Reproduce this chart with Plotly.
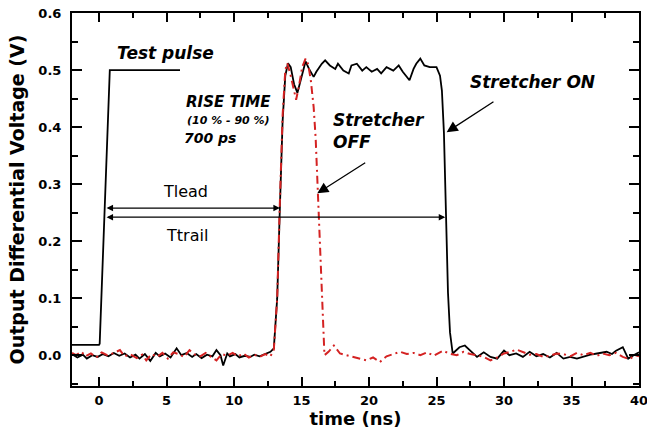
import plotly.graph_objects as go

# ---------------- data ----------------
# Test pulse (black)
pulse_t = [-2.0, 0.0, 0.05, 0.8, 6.0]
pulse_v = [0.018, 0.018, 0.02, 0.5, 0.5]

# Stretcher ON (black solid)
on_t = [-2.0, -1.6, -1.2, -0.9, -0.5, -0.1, 0.3, 0.7, 1.1, 1.5, 1.9, 2.3, 2.7, 3.0, 3.4, 3.8,
        4.2, 4.5, 4.9, 5.3, 5.75, 6.1, 6.5, 6.9, 7.2, 7.6, 8.0, 8.4, 8.7, 9.0, 9.2, 9.5, 9.7,
        10.1, 10.4, 10.8, 11.2, 11.5, 11.9, 12.3, 12.7, 12.95, 13.2, 13.4, 13.6, 13.8, 14.0,
        14.2, 14.45, 14.7, 15.0, 15.3, 15.6, 15.9, 16.1, 16.5, 16.75, 17.1, 17.5, 17.7, 18.1,
        18.5, 18.7, 19.1, 19.5, 19.8, 20.2, 20.6, 20.9, 21.3, 21.8, 22.2, 22.5, 23.0, 23.3,
        23.5, 23.8, 24.1, 24.5, 25.0, 25.26, 25.4, 25.55, 25.7, 25.85, 26.0, 26.2, 26.7, 27.1,
        27.5, 28.0, 28.5, 29.0, 29.5, 30.0, 30.4, 30.9, 31.4, 31.9, 32.4, 32.9, 33.4, 33.9,
        34.4, 34.9, 35.4, 35.9, 36.4, 36.9, 37.6, 38.0, 38.3, 38.8, 39.2, 39.6, 40.0]
on_v = [0.002, -0.004, 0.001, -0.006, 0.000, -0.003, 0.002, -0.002, 0.004, -0.001, 0.003,
        -0.004, 0.001, -0.006, 0.002, -0.010, 0.004, -0.002, 0.003, -0.004, 0.012, 0.000,
        0.004, -0.003, 0.002, -0.005, 0.001, -0.002, 0.009, 0.000, -0.018, 0.003, -0.002,
        0.002, -0.004, -0.001, -0.003, 0.001, -0.002, 0.002, 0.006, 0.012, 0.10, 0.26, 0.41,
        0.49, 0.512, 0.505, 0.475, 0.46, 0.49, 0.515, 0.50, 0.488, 0.497, 0.511, 0.517, 0.508,
        0.502, 0.511, 0.499, 0.494, 0.508, 0.511, 0.499, 0.505, 0.497, 0.502, 0.494, 0.505,
        0.499, 0.508, 0.497, 0.482, 0.502, 0.511, 0.520, 0.508, 0.505, 0.505, 0.49, 0.464,
        0.39, 0.25, 0.11, 0.04, 0.003, 0.014, 0.017, 0.008, -0.003, 0.005, -0.003, -0.006,
        0.008, 0.000, 0.003, -0.003, 0.006, -0.002, 0.002, -0.004, 0.004, -0.006, -0.003,
        -0.006, -0.002, 0.001, 0.003, 0.006, 0.002, 0.008, 0.014, -0.006, 0.000, 0.005]

# Stretcher OFF (red dash-dot)
off_t = [-2.0, -1.7, -1.3, -1.0, -0.6, -0.2, 0.2, 0.6, 1.0, 1.55, 1.9, 2.3, 2.8, 3.2, 3.5, 3.9,
         4.3, 4.7, 5.1, 5.5, 5.9, 6.3, 6.7, 7.1, 7.5, 7.9, 8.3, 8.7, 9.1, 9.5, 9.9, 10.3, 10.7,
         11.1, 11.5, 11.9, 12.3, 12.7, 12.95, 13.2, 13.4, 13.6, 13.8, 13.95, 14.2, 14.45, 14.6,
         14.8, 15.05, 15.3, 15.5, 15.7, 15.9, 16.05, 16.2, 16.35, 16.5, 16.6, 16.7, 17.0, 17.4,
         17.85, 18.3, 18.8, 19.3, 19.8, 20.3, 20.8, 21.3, 21.8, 22.3, 22.8, 23.3, 23.8, 24.3,
         24.8, 25.2, 25.5, 25.9, 26.5, 27.0, 27.5, 28.0, 28.5, 29.0, 29.5, 30.0, 30.5, 30.9,
         31.4, 31.9, 32.4, 32.9, 33.4, 33.9, 34.4, 34.9, 35.4, 35.9, 36.4, 36.9, 37.3, 37.8,
         38.3, 38.8, 39.3, 39.7, 40.0]
off_v = [0.004, 0.000, 0.006, -0.002, 0.003, -0.004, 0.005, 0.000, 0.003, 0.009, -0.002, 0.002,
         -0.005, 0.001, -0.009, 0.002, -0.003, 0.004, -0.006, 0.005, 0.002, -0.003, 0.009, 0.001,
         -0.002, 0.004, -0.003, -0.009, 0.002, -0.001, 0.004, -0.002, 0.003, -0.004, 0.001,
         -0.003, 0.002, -0.002, 0.010, 0.10, 0.27, 0.42, 0.50, 0.512, 0.49, 0.46, 0.448, 0.47,
         0.505, 0.52, 0.51, 0.48, 0.435, 0.38, 0.29, 0.18, 0.09, 0.04, 0.0, 0.006, 0.017, 0.003,
         0.0, -0.003, -0.006, -0.009, -0.004, -0.012, -0.002, 0.002, 0.006, 0.002, 0.004, 0.000,
         0.005, -0.001, 0.004, 0.008, 0.003, 0.000, 0.006, 0.002, 0.0, -0.003, -0.009, -0.004,
         0.003, 0.006, 0.010, 0.006, 0.001, 0.002, -0.003, -0.001, 0.003, 0.002, -0.002, 0.004,
         0.000, 0.004, -0.001, 0.003, 0.000, 0.004, -0.003, -0.007, 0.0, -0.002]

x_ticks = [0, 5, 10, 15, 20, 25, 30, 35, 40]
y_ticks = [0.0, 0.1, 0.2, 0.3, 0.4, 0.5, 0.6]

# annotation anchors (data coordinates)
t_lead = [0.45, 13.4, 0.258]      # start, end, level
t_trail = [0.45, 25.65, 0.242]
off_arrow = [19.83, 0.339, 16.17, 0.284]   # tail x, tail y, head x, head y
on_arrow = [29.33, 0.446, 25.75, 0.391]

BOLD = "DejaVu Sans"
fig = go.Figure()
fig.add_trace(go.Scatter(x=pulse_t, y=pulse_v, mode="lines",
                         line=dict(color="black", width=1.8), showlegend=False))
fig.add_trace(go.Scatter(x=on_t, y=on_v, mode="lines",
                         line=dict(color="black", width=1.8), showlegend=False))
fig.add_trace(go.Scatter(x=off_t, y=off_v, mode="lines",
                         line=dict(color="#d42222", width=2, dash="8px,4px,2px,4px"),
                         showlegend=False))

def txt(x, y, s, size, italic=True, bold=True, xanchor="center", align="center"):
    fig.add_annotation(x=x, y=y, text=s, showarrow=False, xanchor=xanchor, yanchor="middle",
                       align=align,
                       font=dict(family=BOLD, size=size, color="black",
                                 weight="bold" if bold else "normal",
                                 style="italic" if italic else "normal"))

txt(4.95, 0.529, "Test pulse", 17)
txt(9.6, 0.444, "RISE TIME", 15)
txt(9.6, 0.412, "(10 % - 90 %)", 11)
txt(8.2, 0.380, "700 ps", 14)
txt(17.2, 0.393, "Stretcher<br>OFF", 17, xanchor="left", align="left")
txt(32.1, 0.479, "Stretcher ON", 17)
txt(6.4, 0.287, "Tlead", 16, italic=False, bold=False)
txt(6.5, 0.210, "Ttrail", 16, italic=False, bold=False)

# double arrows
for a in (t_lead, t_trail):
    fig.add_annotation(x=a[1], y=a[2], ax=a[0], ay=a[2], axref="x", ayref="y", xref="x", yref="y",
                       text="", showarrow=True, arrowside="end+start", arrowhead=2,
                       startarrowhead=2, arrowsize=1.0, startarrowsize=1.0, arrowwidth=1.3,
                       arrowcolor="black", standoff=0, startstandoff=0)
# pointer arrows
for a in (off_arrow, on_arrow):
    fig.add_annotation(x=a[2], y=a[3], ax=a[0], ay=a[1], axref="x", ayref="y", xref="x", yref="y",
                       text="", showarrow=True, arrowhead=2, arrowsize=1.7, arrowwidth=1.3,
                       arrowcolor="black", standoff=0)

axis_common = dict(showline=True, linecolor="black", linewidth=2, mirror="ticks",
                   ticks="inside", tickcolor="black", tickwidth=2, showgrid=False,
                   zeroline=False, automargin=False, ticklabeloverflow="allow",
                   tickfont=dict(family=BOLD, size=13, color="black", weight="bold"))
fig.update_xaxes(range=[-2, 40], tickvals=x_ticks, ticklen=9,
                 minor=dict(ticks="inside", ticklen=5, dtick=2.5, tickwidth=2,
                            tickcolor="black", tick0=0),
                 title=dict(text="time (ns)", standoff=2,
                            font=dict(family=BOLD, size=18, color="black", weight="bold")),
                 ticklabelstandoff=1, **axis_common)
fig.update_yaxes(range=[-0.054, 0.6], tickvals=y_ticks, tickformat=".1f", ticklen=10,
                 minor=dict(ticks="inside", ticklen=6, dtick=0.05, tickwidth=2,
                            tickcolor="black", tick0=0),
                 title=dict(text="Output Differential Voltage (V)", standoff=9,
                            font=dict(family=BOLD, size=19, color="black", weight="bold")),
                 ticklabelstandoff=6, **axis_common)
fig.update_layout(width=647, height=438, margin=dict(l=72, r=8, t=13, b=52),
                  plot_bgcolor="white", paper_bgcolor="white", showlegend=False)
# remove the browser's default 8px body margin so the figure sits at the page origin
fig.write_html("out.html", config={"displayModeBar": False},
               post_script="document.body.style.margin='0';document.body.style.overflow='hidden';")
